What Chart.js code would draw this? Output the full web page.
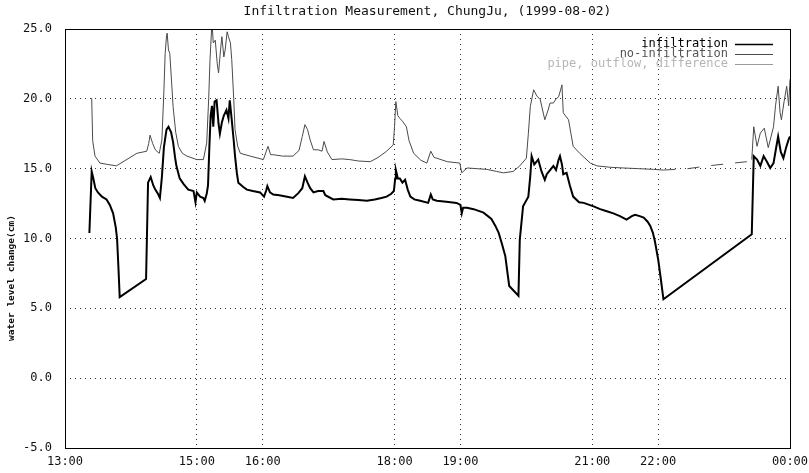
<!DOCTYPE html>
<html>
<head>
<meta charset="utf-8">
<script src="https://cdn.jsdelivr.net/npm/chart.js@4.4.1/dist/chart.umd.min.js"></script>
<style>
  html,body{margin:0;padding:0;background:#fff;}
  #wrap{width:809px;height:473px;}
</style>
</head>
<body>
<div id="wrap"><canvas id="infilChart" width="809" height="473"></canvas></div>
<script>
// ---- data (hour of day, water level change in cm) ----
const titleText = 'Infiltration Measurement, ChungJu, (1999-08-02)';
const seriesLabels = ['infiltration', 'no-infiltration', 'pipe, outflow, difference'];
const tickHours = [13, 15, 16, 18, 19, 21, 22, 24];
const yTicks = [-5, 0, 5, 10, 15, 20, 25];

const infilHours = [13.37,13.405,13.43,13.46,13.50,13.56,13.63,13.68,13.73,13.77,13.79,13.81,13.83,
  14.23,14.26,14.30,14.34,14.37,14.41,14.44,14.47,14.50,14.54,14.57,14.61,14.64,14.67,14.69,14.74,14.80,14.87,14.95,14.98,
  15.00,15.05,15.10,15.12,15.15,15.17,15.19,15.21,15.23,15.25,15.27,15.30,15.33,15.35,15.38,15.41,15.45,15.48,15.50,15.53,15.56,15.58,15.61,15.63,15.70,15.76,15.85,15.96,
  16.02,16.05,16.07,16.11,16.16,16.25,16.35,16.46,16.54,16.60,16.64,16.68,16.72,16.77,16.84,16.92,16.95,
  17.07,17.20,17.32,17.45,17.58,17.70,17.80,17.88,17.95,17.99,
  18.01,18.02,18.05,18.08,18.12,18.16,18.20,18.24,18.30,18.39,18.51,18.55,18.58,18.64,18.75,18.85,18.94,
  19.00,19.02,19.04,19.10,19.20,19.35,19.47,19.53,19.58,19.63,19.68,19.72,19.74,19.88,19.90,19.95,
  20.03,20.06,20.08,20.12,20.18,20.23,20.28,20.31,20.36,20.41,20.45,20.49,20.51,20.54,20.56,20.61,20.66,20.71,20.80,20.87,
  21.02,21.12,21.22,21.32,21.42,21.52,21.60,21.65,21.72,21.78,21.84,21.88,21.92,21.95,
  22.00,22.04,22.08,
  23.42,23.45,23.50,23.55,23.60,23.65,23.70,23.75,23.79,23.82,23.86,23.90,23.94,23.98,24.00];
const infilValues = [10.4,14.8,14.3,13.6,13.3,13.0,12.8,12.4,11.8,10.8,10.0,8.0,5.8,
  7.1,14.0,14.4,13.8,13.5,13.2,12.9,14.4,16.5,17.8,18.0,17.6,16.9,15.8,15.2,14.3,13.9,13.5,13.4,12.6,
  13.3,13.0,12.9,12.7,13.2,13.8,16.5,18.8,19.5,18.0,19.8,19.9,18.2,17.5,18.3,18.8,19.2,18.6,19.9,18.5,17.0,15.9,14.6,14.0,13.7,13.5,13.4,13.3,
  13.0,13.4,13.75,13.3,13.15,13.1,13.0,12.9,13.25,13.6,14.45,14.0,13.6,13.3,13.4,13.4,13.1,
  12.8,12.85,12.8,12.75,12.7,12.8,12.9,13.0,13.2,13.4,
  14.3,14.9,14.3,14.3,14.0,14.2,13.5,13.0,12.8,12.7,12.55,13.15,12.8,12.7,12.65,12.6,12.55,
  12.4,11.8,12.2,12.2,12.1,11.85,11.4,10.9,10.4,9.6,8.75,7.3,6.6,5.9,9.9,12.3,
  13.0,14.5,15.9,15.3,15.65,14.8,14.2,14.6,14.9,15.2,14.9,15.65,15.9,15.3,14.6,14.7,13.8,13.0,12.6,12.55,
  12.3,12.1,11.95,11.8,11.6,11.35,11.6,11.7,11.6,11.5,11.2,10.9,10.4,9.8,
  8.5,7.1,5.65,
  10.3,15.9,15.65,15.2,15.9,15.5,15.05,15.4,16.5,17.3,16.2,15.75,16.5,17.1,17.3];

const noInfilHours = [13.405,13.42,13.455,13.53,13.65,13.78,14.09,14.24,14.27,14.29,14.33,14.37,14.43,14.47,
  14.50,14.52,14.54,14.55,14.57,14.59,14.62,14.64,14.68,14.72,14.78,14.85,
  15.00,15.10,15.15,15.18,15.20,15.23,15.25,15.28,15.31,15.33,15.36,15.38,15.41,15.43,15.46,15.48,15.51,15.53,15.56,15.58,15.62,15.66,15.81,
  16.01,16.05,16.08,16.12,16.16,16.30,16.46,16.55,16.60,16.64,16.68,16.72,16.77,16.84,16.90,16.93,16.98,
  17.05,17.20,17.32,17.45,17.63,17.75,17.88,17.98,
  18.00,18.02,18.05,18.08,18.12,18.18,18.22,18.29,18.40,18.49,18.55,18.60,18.64,18.80,18.99,
  19.02,19.10,19.25,19.40,19.55,19.65,19.80,19.90,
  20.00,20.03,20.06,20.11,20.16,20.21,20.28,20.33,20.36,20.41,20.45,20.49,20.54,20.56,20.64,20.71,20.81,20.97,
  21.07,21.27,21.47,21.70,21.93,22.08,
  22.45,22.75,23.05,23.34,23.42,
  23.45,23.50,23.55,23.61,23.67,23.75,23.78,23.82,23.85,23.87,23.91,23.95,23.98,24.00];
const noInfilValues = [20.05,17.0,15.9,15.4,15.3,15.2,16.1,16.25,16.8,17.4,16.8,16.35,16.1,17.05,
  20.5,23.25,24.5,24.7,23.5,23.25,21.0,19.45,17.6,16.6,16.1,15.9,
  15.65,15.65,16.85,20.0,22.8,25.5,24.0,24.2,22.5,21.85,23.5,24.45,23.0,23.5,24.8,24.45,24.0,22.8,20.0,17.8,16.6,16.1,15.9,
  15.65,16.2,16.6,16.0,16.0,15.9,15.9,16.3,17.3,18.15,17.8,17.05,16.35,16.35,16.25,16.95,16.2,
  15.65,15.7,15.65,15.55,15.5,15.8,16.25,16.7,
  18.0,19.8,18.8,18.6,18.4,18.0,17.0,16.1,15.6,15.4,16.25,15.8,15.75,15.5,15.4,
  14.7,15.05,15.0,14.95,14.8,14.7,14.8,15.2,
  15.75,17.5,19.45,20.65,20.2,19.95,18.5,19.2,19.7,19.7,20.0,20.15,21.0,19.0,18.5,16.6,16.1,15.4,
  15.2,15.1,15.05,15.0,14.95,14.9,
  15.0,15.2,15.35,15.5,15.65,
  18.0,16.6,17.55,17.9,16.5,18.0,19.5,20.9,19.0,18.5,19.8,20.9,19.5,21.4];

// third series is not visible in the source picture
const pipeHours = [];
const pipeValues = [];

const zip = (xs, ys) => xs.map((x, i) => ({x, y: ys[i]}));
const MONO = '"DejaVu Sans Mono", "Liberation Mono", monospace';

function hourLabel(h){
  return String(Math.round(h) % 24).padStart(2, '0') + ':00';
}

// frame, title, y title and gnuplot-style legend
const decorPlugin = {
  id: 'decor',
  afterDraw(chart){
    const {ctx, chartArea: a} = chart;
    ctx.save();
    ctx.strokeStyle = '#000'; ctx.lineWidth = 1;
    ctx.strokeRect(a.left + 0.5, a.top + 0.5, a.right - a.left, a.bottom - a.top);

    ctx.fillStyle = '#111';
    ctx.font = '13px ' + MONO;
    ctx.textAlign = 'center'; ctx.textBaseline = 'middle';
    ctx.fillText(titleText, (a.left + a.right) / 2, 12);

    ctx.save();
    ctx.translate(12, 278); ctx.rotate(-Math.PI / 2);
    ctx.font = 'bold 9.5px ' + MONO;
    ctx.fillText('water level change(cm)', 0, 0);
    ctx.restore();

    ctx.font = '12px ' + MONO;
    ctx.textAlign = 'right';
    chart.data.datasets.forEach((ds, i) => {
      const y = 44 + i * 10;
      ctx.fillStyle = ds.legendText;
      ctx.fillText(ds.label, 728, y);
      ctx.strokeStyle = ds.borderColor; ctx.lineWidth = ds.legendWidth;
      ctx.beginPath(); ctx.moveTo(735, y + 0.5); ctx.lineTo(773, y + 0.5); ctx.stroke();
    });
    ctx.restore();
  }
};

new Chart(document.getElementById('infilChart').getContext('2d'), {
  type: 'line',
  data: {
    datasets: [
      {label: seriesLabels[0], data: zip(infilHours, infilValues), borderColor: '#000', borderWidth: 2,
        legendWidth: 1.5, legendText: '#000', pointRadius: 0, tension: 0},
      {label: seriesLabels[1], data: zip(noInfilHours, noInfilValues), borderColor: '#4a4a4a', borderWidth: 1,
        legendWidth: 1, legendText: '#555', pointRadius: 0, tension: 0,
        segment: {borderDash: c => (c.p0.parsed.x >= 22.07 && c.p1.parsed.x <= 23.43) ? [12, 12] : undefined}},
      {label: seriesLabels[2], data: zip(pipeHours, pipeValues), borderColor: '#9a9a9a', borderWidth: 1,
        legendWidth: 1, legendText: '#b5b5b5', pointRadius: 0, tension: 0}
    ]
  },
  options: {
    responsive: false, animation: false,
    layout: {padding: {top: 29, right: 19, bottom: 0, left: 0}},
    plugins: {legend: {display: false}, title: {display: false}, tooltip: {enabled: false}},
    scales: {
      x: {
        type: 'linear', min: 13, max: 24,
        afterBuildTicks: s => { s.ticks = tickHours.map(v => ({value: v})); },
        afterFit: s => { s.height = 25; s.paddingRight = 0; s.paddingLeft = 0; },
        ticks: {callback: v => hourLabel(v), color: '#111', font: {family: MONO, size: 12}, padding: 7, maxRotation: 0, autoSkip: false},
        grid: {color: '#333', lineWidth: 1, drawTicks: false},
        border: {display: false, dash: [1, 4]}
      },
      y: {
        min: -5, max: 25,
        afterBuildTicks: s => { s.ticks = yTicks.map(v => ({value: v})); },
        afterFit: s => { s.width = 65; },
        ticks: {callback: v => v.toFixed(1), color: '#111', font: {family: MONO, size: 12}, padding: 13},
        grid: {color: '#333', lineWidth: 1, drawTicks: false},
        border: {display: false, dash: [1, 4]}
      }
    }
  },
  plugins: [decorPlugin]
});
</script>
</body>
</html>
